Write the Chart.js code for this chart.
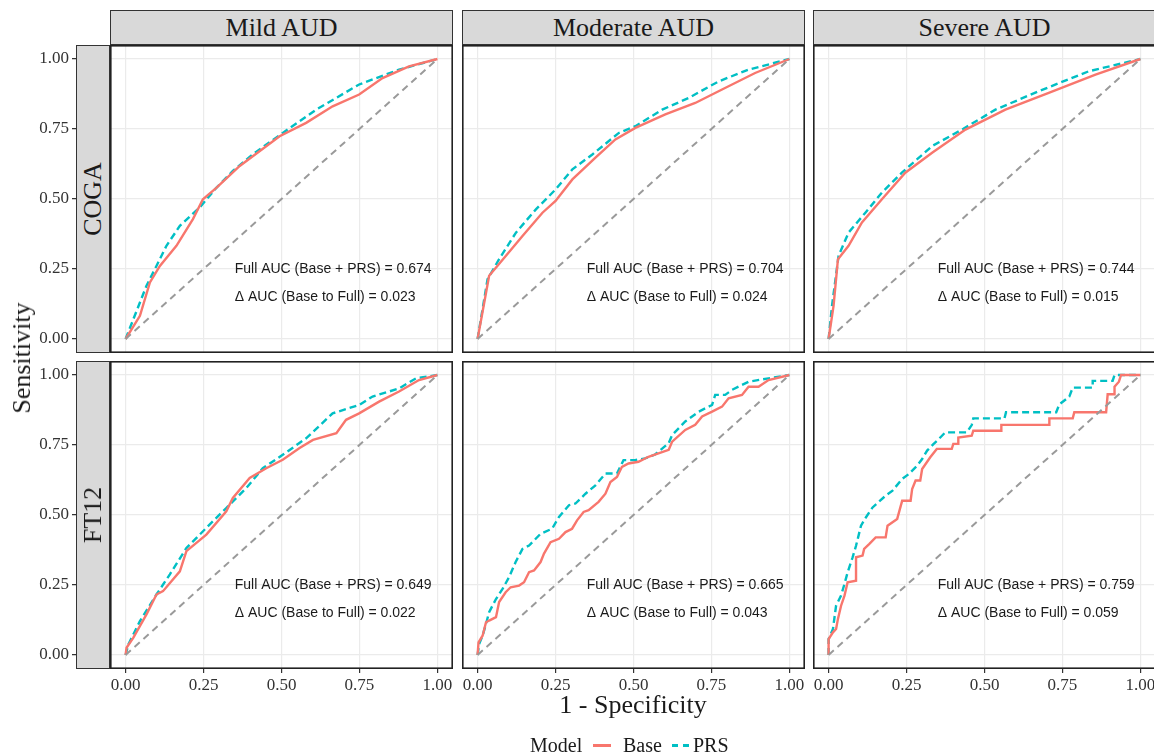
<!DOCTYPE html>
<html>
<head>
<meta charset="utf-8">
<script src="https://cdn.jsdelivr.net/npm/chart.js@4.4.1/dist/chart.umd.min.js"></script>
<style>
    html, body { margin: 0; padding: 0; background: #fff; overflow: hidden; }
    #fig { position: relative; width: 1154px; height: 754px; font-family: 'Liberation Serif', 'Times New Roman', serif; color: #1a1a1a; }
    .panel { position: absolute; }
    .strip-top { position: absolute; height: 35px; background: #d9d9d9; border: 1px solid #333; box-sizing: border-box; font-size: 26px; text-align: center; line-height: 33px; z-index: 2; }
    .strip-left { position: absolute; width: 34px; background: #d9d9d9; border: 1px solid #333; box-sizing: border-box; z-index: 2; }
    .strip-left span { position: absolute; left: 50%; top: 50%; transform: translate(-50%, -50%) rotate(-90deg); font-size: 26px; white-space: nowrap; }
    .title { position: absolute; font-size: 26px; white-space: nowrap; transform: translate(-50%, -50%); }
    .legend { position: absolute; font-size: 20px; line-height: 24px; white-space: nowrap; }
    .key { position: absolute; height: 3px; }
</style>
</head>
<body>
<div id="fig"></div>
<script>
    'use strict';

    /* ===== Data ===== */
    var severities = ['Mild AUD', 'Moderate AUD', 'Severe AUD'];
    var cohorts = ['COGA', 'FT12'];
    var models = ['Base', 'PRS'];
    var tickValues = [0, 0.25, 0.5, 0.75, 1];
    var fullAuc = [[0.674, 0.704, 0.744], [0.649, 0.665, 0.759]];
    var deltaAuc = [[0.023, 0.024, 0.015], [0.022, 0.043, 0.059]];

    // ROC curves as [1 - specificity, sensitivity]
    var cogaMildBase = [[0,0],[0.046,0.083],[0.078,0.202],[0.11,0.261],[0.163,0.333],[0.216,0.428],[0.248,0.499],[0.291,0.54],[0.366,0.618],[0.494,0.724],[0.579,0.772],[0.664,0.831],[0.749,0.873],[0.824,0.932],[0.909,0.974],[1,1]];
    var cogaMildPrs = [[0,0],[0.025,0.071],[0.067,0.19],[0.099,0.261],[0.131,0.333],[0.174,0.404],[0.238,0.47],[0.291,0.54],[0.344,0.6],[0.408,0.66],[0.504,0.736],[0.611,0.819],[0.749,0.909],[0.877,0.962],[1,1]];
    var cogaModBase = [[0,0],[0.037,0.226],[0.091,0.297],[0.144,0.368],[0.208,0.451],[0.25,0.493],[0.304,0.57],[0.378,0.648],[0.442,0.713],[0.506,0.754],[0.602,0.802],[0.698,0.843],[0.784,0.891],[0.89,0.95],[1,1]];
    var cogaModPrs = [[0,0],[0.032,0.214],[0.069,0.285],[0.123,0.38],[0.187,0.463],[0.25,0.534],[0.304,0.606],[0.368,0.659],[0.453,0.736],[0.506,0.76],[0.592,0.819],[0.677,0.861],[0.773,0.92],[0.869,0.962],[1,1]];
    var cogaSevBase = [[0,0],[0.016,0.119],[0.03,0.285],[0.064,0.333],[0.107,0.416],[0.171,0.499],[0.246,0.594],[0.332,0.665],[0.439,0.748],[0.567,0.819],[0.706,0.879],[0.856,0.944],[1,1]];
    var cogaSevPrs = [[0,0],[0.011,0.119],[0.032,0.297],[0.064,0.38],[0.118,0.451],[0.171,0.523],[0.235,0.594],[0.332,0.689],[0.428,0.748],[0.535,0.819],[0.674,0.885],[0.834,0.956],[1,1]];
    var ft12MildBase = [[0,0],[0.003,0.026],[0.025,0.062],[0.067,0.145],[0.099,0.216],[0.12,0.228],[0.174,0.299],[0.195,0.371],[0.259,0.43],[0.323,0.513],[0.344,0.561],[0.398,0.632],[0.451,0.667],[0.504,0.697],[0.558,0.739],[0.601,0.768],[0.676,0.792],[0.707,0.84],[0.749,0.863],[0.813,0.905],[0.877,0.941],[0.941,0.982],[1,1]];
    var ft12MildPrs = [[0,0],[0.009,0.038],[0.046,0.121],[0.099,0.216],[0.142,0.288],[0.195,0.382],[0.259,0.454],[0.323,0.525],[0.387,0.596],[0.44,0.667],[0.504,0.715],[0.579,0.774],[0.664,0.863],[0.749,0.893],[0.792,0.923],[0.877,0.952],[0.931,0.988],[1,1]];
    var ft12ModBase = [[0,0],[0.003,0.045],[0.016,0.069],[0.027,0.117],[0.037,0.123],[0.059,0.135],[0.069,0.189],[0.09,0.224],[0.106,0.242],[0.133,0.248],[0.149,0.26],[0.165,0.296],[0.181,0.302],[0.202,0.332],[0.213,0.362],[0.234,0.403],[0.261,0.415],[0.282,0.439],[0.303,0.451],[0.319,0.481],[0.34,0.511],[0.356,0.517],[0.388,0.547],[0.41,0.576],[0.426,0.618],[0.447,0.636],[0.463,0.672],[0.484,0.684],[0.516,0.69],[0.548,0.708],[0.58,0.72],[0.613,0.733],[0.624,0.762],[0.666,0.804],[0.698,0.822],[0.72,0.852],[0.752,0.869],[0.784,0.887],[0.805,0.917],[0.848,0.929],[0.869,0.958],[0.901,0.958],[0.933,0.982],[1,1]];
    var ft12ModPrs = [[0,0],[0.005,0.039],[0.016,0.069],[0.027,0.111],[0.037,0.153],[0.059,0.2],[0.08,0.236],[0.101,0.278],[0.122,0.332],[0.144,0.379],[0.165,0.391],[0.202,0.433],[0.239,0.451],[0.261,0.493],[0.293,0.535],[0.314,0.541],[0.346,0.576],[0.378,0.606],[0.41,0.648],[0.447,0.648],[0.468,0.696],[0.505,0.696],[0.537,0.702],[0.569,0.716],[0.581,0.727],[0.613,0.757],[0.624,0.786],[0.666,0.834],[0.709,0.869],[0.752,0.893],[0.762,0.929],[0.794,0.929],[0.816,0.947],[0.869,0.976],[0.933,0.988],[1,1]];
    var ft12SevBase = [[0,0],[0,0.057],[0.014,0.081],[0.024,0.093],[0.03,0.129],[0.04,0.176],[0.051,0.212],[0.061,0.26],[0.088,0.265],[0.088,0.349],[0.109,0.355],[0.114,0.379],[0.13,0.396],[0.151,0.42],[0.183,0.42],[0.189,0.462],[0.22,0.486],[0.236,0.551],[0.263,0.551],[0.268,0.593],[0.279,0.623],[0.294,0.623],[0.3,0.664],[0.326,0.706],[0.347,0.736],[0.395,0.736],[0.4,0.754],[0.416,0.754],[0.416,0.777],[0.459,0.783],[0.464,0.801],[0.554,0.801],[0.554,0.822],[0.708,0.822],[0.708,0.845],[0.783,0.845],[0.788,0.867],[0.89,0.867],[0.895,0.931],[0.917,0.931],[0.917,0.958],[0.931,0.976],[0.938,1],[1,1]];
    var ft12SevPrs = [[0,0],[0,0.057],[0.014,0.093],[0.024,0.176],[0.04,0.212],[0.051,0.254],[0.061,0.295],[0.077,0.349],[0.088,0.39],[0.104,0.462],[0.12,0.492],[0.141,0.527],[0.183,0.569],[0.205,0.587],[0.236,0.629],[0.257,0.646],[0.284,0.676],[0.3,0.7],[0.316,0.73],[0.337,0.754],[0.353,0.771],[0.374,0.795],[0.443,0.795],[0.459,0.821],[0.464,0.845],[0.564,0.845],[0.569,0.867],[0.73,0.867],[0.74,0.895],[0.772,0.923],[0.783,0.955],[0.847,0.955],[0.847,0.979],[0.911,0.979],[0.917,1],[1,1]];
    var chanceLine = [[0,0],[1,1]];

    var curves = [
        [[cogaMildBase, cogaMildPrs], [cogaModBase, cogaModPrs], [cogaSevBase, cogaSevPrs]],
        [[ft12MildBase, ft12MildPrs], [ft12ModBase, ft12ModPrs], [ft12SevBase, ft12SevPrs]]
    ];

    /* ===== Design tokens ===== */
    var COLORS = { base: '#F8766D', prs: '#00BFC4', chance: '#9a9a9a', grid: '#ebebeb', frame: '#222', tick: '#333', text: '#1a1a1a' };
    var SERIF = "'Liberation Serif','Times New Roman',serif";
    var SANS = "'Liberation Sans',Arial,sans-serif";

    /* ===== Layout (px) ===== */
    var COL_LEFT = [110, 462, 813];
    var ROW_TOP = [45, 361];
    var PW = 343, PH = 308;
    var YAXIS_W = 80, XAXIS_H = 30;

    var fig = document.getElementById('fig');

    function toPoints(arr) { return arr.map(function (p) { return { x: p[0], y: p[1] }; }); }

    function setTicks(scale) { scale.ticks = tickValues.map(function (v) { return { value: v }; }); }

    // fixed axis sizes, and no extra room for overflowing tick labels
    function fitAxis(size) {
        return function (s) {
            if (s.isHorizontal()) s.height = size; else s.width = size;
            s.paddingTop = 0; s.paddingBottom = 0; s.paddingLeft = 0; s.paddingRight = 0;
        };
    }

    var framePlugin = {
        id: 'frame',
        afterDraw: function (chart) {
            var a = chart.chartArea, ctx = chart.ctx;
            ctx.save();
            ctx.strokeStyle = COLORS.frame;
            ctx.lineWidth = 1.6;
            ctx.strokeRect(a.left + 0.8, a.top + 0.8, a.right - a.left - 1.6, a.bottom - a.top - 1.6);
            ctx.restore();
        }
    };

    var aucPlugin = {
        id: 'aucText',
        afterDatasetsDraw: function (chart, args, opts) {
            var ctx = chart.ctx, sx = chart.scales.x, sy = chart.scales.y;
            ctx.save();
            ctx.font = '14px ' + SANS;
            ctx.fillStyle = COLORS.text;
            ctx.textAlign = 'left';
            ctx.textBaseline = 'middle';
            ctx.fillText('Full AUC (Base + PRS) = ' + opts.full.toFixed(3), sx.getPixelForValue(0.35), sy.getPixelForValue(0.25));
            ctx.fillText('\u0394 AUC (Base to Full) = ' + opts.delta.toFixed(3), sx.getPixelForValue(0.35), sy.getPixelForValue(0.15));
            ctx.restore();
        }
    };

    function makePanel(r, c) {
        var showY = c === 0, showX = r === 1;
        var cv = document.createElement('canvas');
        cv.className = 'panel';
        cv.width = PW + (showY ? YAXIS_W : 0);
        cv.height = PH + (showX ? XAXIS_H : 0);
        cv.style.left = (COL_LEFT[c] - (showY ? YAXIS_W : 0)) + 'px';
        cv.style.top = ROW_TOP[r] + 'px';
        fig.appendChild(cv);

        var tickFont = { family: SERIF, size: 17 };
        var pair = curves[r][c];

        return new Chart(cv, {
            type: 'line',
            data: {
                datasets: [
                    { label: 'chance', data: toPoints(chanceLine), borderColor: COLORS.chance, borderWidth: 2, borderDash: [7, 5], pointRadius: 0, tension: 0 },
                    { label: models[0], data: toPoints(pair[0]), borderColor: COLORS.base, borderWidth: 2.4, pointRadius: 0, tension: 0 },
                    { label: models[1], data: toPoints(pair[1]), borderColor: COLORS.prs, borderWidth: 2.4, borderDash: [7, 4], pointRadius: 0, tension: 0 }
                ]
            },
            options: {
                responsive: false,
                animation: false,
                events: [],
                layout: { padding: 0 },
                plugins: {
                    legend: { display: false },
                    tooltip: { enabled: false },
                    aucText: { full: fullAuc[r][c], delta: deltaAuc[r][c] }
                },
                scales: {
                    x: {
                        type: 'linear', min: -0.05, max: 1.05,
                        afterBuildTicks: setTicks,
                        afterFit: fitAxis(showX ? XAXIS_H : 0),
                        border: { display: false },
                        grid: { color: COLORS.grid, lineWidth: 1.2, drawTicks: showX, tickLength: 4, tickColor: COLORS.tick, tickWidth: 1.2 },
                        ticks: { display: showX, autoSkip: false, maxRotation: 0, padding: 2, font: tickFont, color: '#333',
                                 callback: function (v) { return v.toFixed(2); } }
                    },
                    y: {
                        type: 'linear', min: -0.05, max: 1.05,
                        afterBuildTicks: setTicks,
                        afterFit: fitAxis(showY ? YAXIS_W : 0),
                        border: { display: false },
                        grid: { color: COLORS.grid, lineWidth: 1.2, drawTicks: showY, tickLength: 38, tickColor: COLORS.tick, tickWidth: 1.2 },
                        ticks: { display: showY, autoSkip: false, padding: 3, font: tickFont, color: '#333',
                                 callback: function (v) { return v.toFixed(2); } }
                    }
                }
            },
            plugins: [framePlugin, aucPlugin]
        });
    }

    function addDiv(cls, css, html) {
        var d = document.createElement('div');
        d.className = cls;
        Object.keys(css).forEach(function (k) { d.style[k] = css[k]; });
        d.innerHTML = html;
        fig.appendChild(d);
        return d;
    }

    /* ===== Build ===== */
    for (var r = 0; r < cohorts.length; r++) {
        for (var c = 0; c < severities.length; c++) makePanel(r, c);
    }
    severities.forEach(function (s, c) {
        addDiv('strip-top', { left: COL_LEFT[c] + 'px', top: '10px', width: PW + 'px' }, s);
    });
    cohorts.forEach(function (name, r) {
        addDiv('strip-left', { left: '76px', top: ROW_TOP[r] + 'px', height: PH + 'px' }, '<span>' + name + '</span>');
    });

    addDiv('title', { left: '633px', top: '705px' }, '1 - Specificity');
    addDiv('title', { left: '22px', top: '358px', transform: 'translate(-50%,-50%) rotate(-90deg)' }, 'Sensitivity');

    // legend
    addDiv('legend', { left: '530px', top: '733px' }, 'Model');
    addDiv('key', { left: '593px', top: '744px', width: '18px', background: COLORS.base }, '');
    addDiv('legend', { left: '623px', top: '733px' }, models[0]);
    addDiv('key', { left: '672px', top: '744px', width: '17px',
        background: 'repeating-linear-gradient(90deg,' + COLORS.prs + ' 0 6px, transparent 6px 11px)' }, '');
    addDiv('legend', { left: '693px', top: '733px' }, models[1]);
</script>
</body>
</html>
